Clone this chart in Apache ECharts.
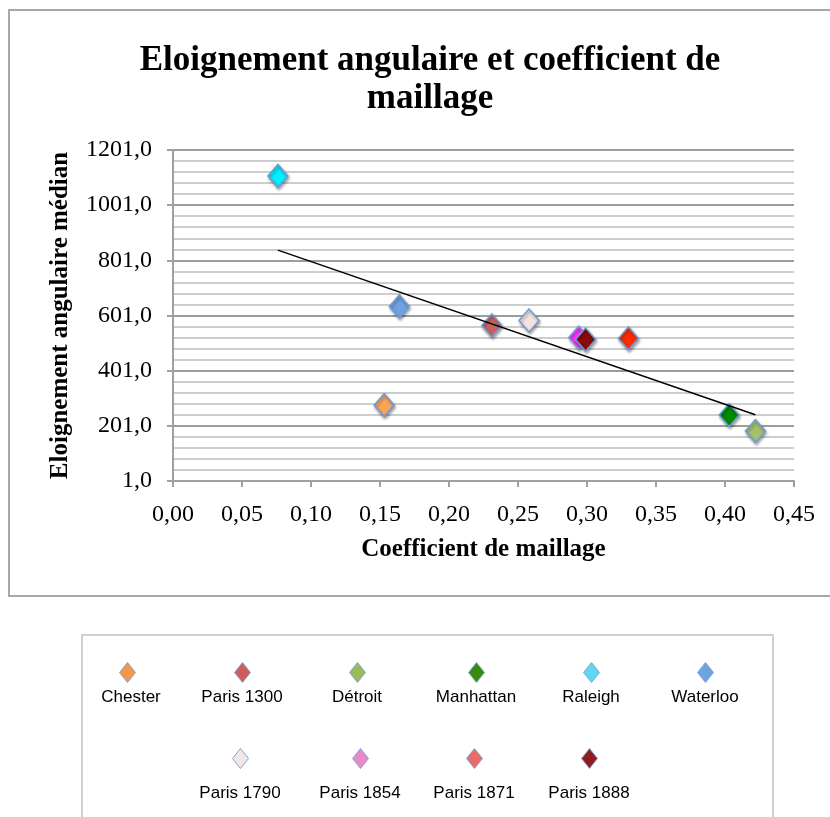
<!DOCTYPE html>
<html>
<head>
<meta charset="utf-8">
<script src="https://cdn.jsdelivr.net/npm/echarts@6/dist/echarts.min.js"></script>
<style>
  html, body { margin: 0; padding: 0; background: #fff; }
  #chart { width: 830px; height: 817px; }
</style>
</head>
<body>
<div id="chart"></div>
<script>
var chartDom = document.getElementById('chart');
var myChart = echarts.init(chartDom);

// data
var villes = ['Chester', 'Paris 1300', 'Détroit', 'Manhattan', 'Raleigh', 'Waterloo',
              'Paris 1790', 'Paris 1854', 'Paris 1871', 'Paris 1888'];
var coefMaillage = [0.153, 0.231, 0.422, 0.403, 0.076, 0.164, 0.258, 0.294, 0.330, 0.299];
var eloignement = [276, 565, 182, 240, 1107, 634, 583, 521, 518, 514];
var couleursPoints = ['#F9A65A', '#C8625C', '#A5C26A', '#008A00', '#00F0FF', '#6FA3E0',
                      '#F3E3DF', '#FF33FF', '#FF2A00', '#8B0A05'];
var couleursLegende = ['#F79646', '#CD5F5A', '#9BBB59', '#3A8A10', '#5FD9F0', '#6FA3E0',
                       '#F2E6E6', '#E88AC8', '#E86A6A', '#8E1E1E'];
var tendanceX = [0.076, 0.422];
var tendanceY = [838, 241];

// legend placement (icon centre x, row)
var legendePos = [[127, 0], [242, 0], [357, 0], [476, 0], [591, 0], [705, 0],
                  [240, 1], [360, 1], [474, 1], [589, 1]];
var rowIconY = [672, 758];
var rowTextY = [697, 793];

var series = villes.map(function (v, i) {
  return {
    name: v,
    type: 'scatter',
    symbol: 'diamond',
    symbolSize: [20, 23],
    data: [[coefMaillage[i], eloignement[i]]],
    itemStyle: {
      color: couleursPoints[i],
      opacity: 1,
      borderColor: '#6E9BD6',
      borderWidth: 1.5,
      shadowBlur: 3,
      shadowColor: 'rgba(0,0,0,0.35)',
      shadowOffsetX: 1,
      shadowOffsetY: 2
    }
  };
});
series.push({
  name: 'Tendance',
  type: 'line',
  symbol: 'none',
  silent: true,
  data: tendanceX.map(function (x, i) { return [x, tendanceY[i]]; }),
  lineStyle: { color: '#000', width: 1.5 },
  z: 5
});

var legends = villes.map(function (v, i) {
  var p = legendePos[i];
  return {
    left: p[0] - 8,
    top: rowIconY[p[1]] - 10,
    padding: 0,
    itemWidth: 16,
    itemHeight: 20,
    icon: 'diamond',
    formatter: function () { return ''; },
    data: [{ name: v, itemStyle: { color: couleursLegende[i], opacity: 1, borderColor: '#7FA7D9', borderWidth: 1 } }]
  };
});

var textes = villes.map(function (v, i) {
  var p = legendePos[i];
  return {
    type: 'text',
    x: p[0] + (i === 0 ? 4 : 0),
    y: rowTextY[p[1]],
    style: {
      text: v,
      fill: '#000',
      font: '17px "Liberation Sans", Arial, sans-serif',
      textAlign: 'center',
      textVerticalAlign: 'middle'
    }
  };
});

var option = {
  animation: false,
  backgroundColor: '#fff',
  title: {
    text: 'Eloignement angulaire et coefficient de\nmaillage',
    left: 425,
    top: 37,
    textAlign: 'center',
    textStyle: {
      fontFamily: '"Liberation Serif", serif',
      fontWeight: 'bold',
      fontSize: 35,
      lineHeight: 38,
      color: '#000'
    }
  },
  legend: legends,
  graphic: [
    {
      type: 'rect',
      shape: { x: 9, y: 10, width: 850, height: 586 },
      style: { fill: 'none', stroke: '#A8A8A8', lineWidth: 2 },
      silent: true
    },
    {
      type: 'rect',
      shape: { x: 82, y: 635, width: 691, height: 220 },
      style: { fill: 'none', stroke: '#D0D0D0', lineWidth: 2 },
      silent: true
    }
  ].concat(textes),
  grid: {
    left: 173,
    right: 36,
    top: 150,
    bottom: 336
  },
  xAxis: {
    type: 'value',
    min: 0,
    max: 0.45,
    interval: 0.05,
    name: 'Coefficient de maillage',
    nameLocation: 'middle',
    nameGap: 56,
    nameTextStyle: {
      fontFamily: '"Liberation Serif", serif',
      fontWeight: 'bold',
      fontSize: 25,
      color: '#000'
    },
    axisLine: { lineStyle: { color: '#A0A0A0', width: 2 } },
    axisTick: { show: true, length: 6, lineStyle: { color: '#A0A0A0', width: 2 } },
    splitLine: { show: false },
    axisLabel: {
      margin: 22,
      fontFamily: '"Liberation Serif", serif',
      fontSize: 24,
      color: '#000',
      formatter: function (v) { return v.toFixed(2).replace('.', ','); }
    }
  },
  yAxis: {
    type: 'value',
    min: 1,
    max: 1201,
    interval: 200,
    name: 'Eloignement angulaire médian',
    nameLocation: 'middle',
    nameGap: 100,
    nameTextStyle: {
      fontFamily: '"Liberation Serif", serif',
      fontWeight: 'bold',
      fontSize: 25,
      color: '#000'
    },
    axisLine: { show: true, lineStyle: { color: '#A0A0A0', width: 2 } },
    axisTick: { show: true, length: 6, lineStyle: { color: '#A0A0A0', width: 2 } },
    splitLine: { show: true, lineStyle: { color: '#9C9C9C', width: 2 } },
    minorTick: { show: false, splitNumber: 5 },
    minorSplitLine: { show: true, lineStyle: { color: '#BDBDBD', width: 1.5 } },
    axisLabel: {
      margin: 21,
      fontFamily: '"Liberation Serif", serif',
      fontSize: 24,
      color: '#000',
      formatter: function (v) { return v.toFixed(1).replace('.', ','); }
    }
  },
  series: series
};

myChart.setOption(option);
</script>
</body>
</html>
